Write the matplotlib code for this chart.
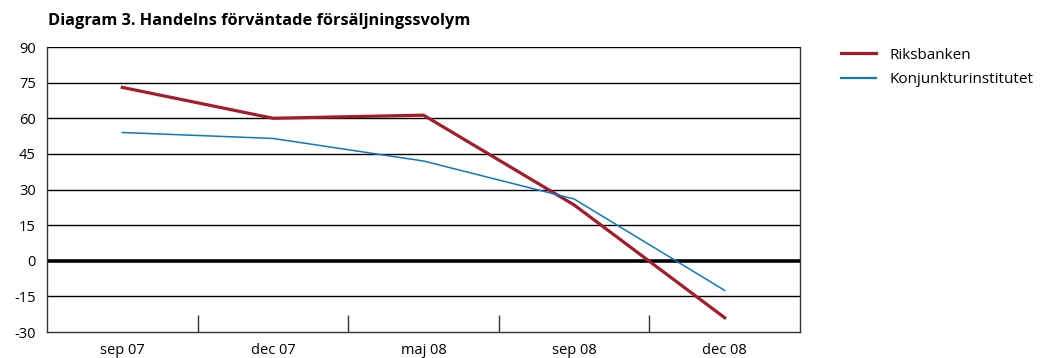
import numpy as np
import matplotlib
matplotlib.use("Agg")
import matplotlib.pyplot as plt

plt.rcParams['font.family'] = ['Open Sans', 'DejaVu Sans']

# Quarters and survey results (net figures)
quarters = ["sep 07", "dec 07", "maj 08", "sep 08", "dec 08"]
riksbanken = [73, 60, 61.3, 23.5, -24]
konjunktur = [54, 51.5, 42, 26, -12.5]

yticks = [-30, -15, 0, 15, 30, 45, 60, 75, 90]

fig = plt.figure(figsize=(10.42, 3.58), dpi=100)
ax = fig.add_axes([0.0451, 0.0726, 0.7227, 0.7961])

x = np.arange(len(quarters))
ax.plot(x, riksbanken, color="#a51c28", lw=2.3, label="Riksbanken", zorder=3)
ax.plot(x, konjunktur, color="#0a7ac4", lw=1.1, label="Konjunkturinstitutet", zorder=3)

ax.set_xlim(-0.5, len(quarters) - 0.5)
ax.set_ylim(-30, 90)

# horizontal grid, heavier at zero
for v in yticks[1:]:
    ax.axhline(v, color="black", lw=2.6 if v == 0 else 1.0, zorder=1)

ax.set_yticks(yticks)
ax.set_yticklabels([str(v) for v in yticks], fontsize=10.5)
ax.tick_params(axis="y", length=0, pad=8)

ax.set_xticks(x)
ax.set_xticklabels(quarters, fontsize=10.5)
ax.set_xticks(x[:-1] + 0.5, minor=True)
ax.tick_params(axis="x", which="major", length=0, pad=8)
ax.tick_params(axis="x", which="minor", direction="in", length=12, width=1, color="#333333")

for side in ["left", "bottom", "right"]:
    ax.spines[side].set_linewidth(1.0)
    ax.spines[side].set_color("#333333")
ax.spines["top"].set_visible(False)

fig.text(0.046, 0.93, "Diagram 3. Handelns förväntade försäljningssvolym",
         fontsize=11.8, fontweight="bold", ha="left", va="baseline")

leg = fig.legend(loc="upper left", bbox_to_anchor=(0.804, 0.875), frameon=False,
                 fontsize=11, handlelength=2.3, handletextpad=0.9, labelspacing=0.62,
                 borderaxespad=0, borderpad=0.2)
for line in leg.get_lines():
    line.set_linewidth(2.3 if line.get_label() == "Riksbanken" else 1.6)

fig.savefig("out.png", dpi=100)
